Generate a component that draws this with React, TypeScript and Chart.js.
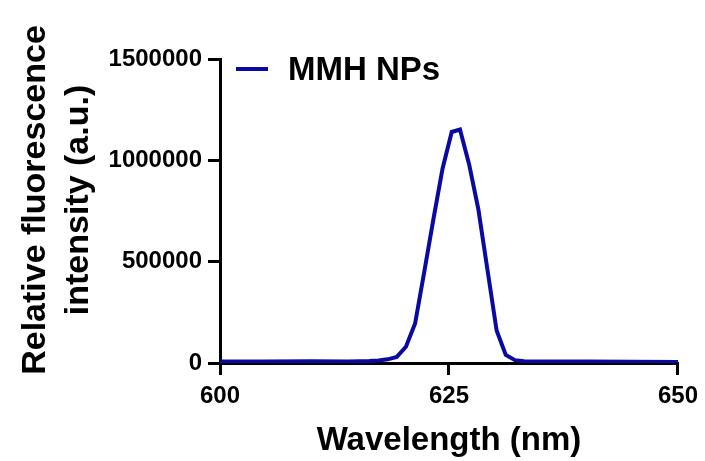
import React, { useEffect, useRef } from "react";
import { Chart, registerables } from "chart.js";

Chart.register(...registerables);

// Emission spectrum (wavelength in nm, relative fluorescence intensity in a.u.)
const wavelengths = [
  600, 605, 610, 614, 616.3, 617.3, 618.3, 619.3, 620.3, 621.3, 622.3, 623.3,
  624.3, 625.3, 626.2, 627.2, 628.2, 629.2, 630.2, 631.2, 632.2, 633.2, 635,
  640, 645, 650,
];
const intensities = [
  8000, 7000, 9000, 8000, 10000, 12000, 18000, 30000, 80000, 195000, 450000,
  710000, 960000, 1140000, 1152000, 980000, 760000, 460000, 160000, 40000,
  14000, 9000, 8000, 7000, 6000, 5000,
];
const seriesName = "MMH NPs";
const xTitle = "Wavelength (nm)";
const yTitleLines = ["Relative fluorescence", "intensity (a.u.)"];
const xTicks = [600, 625, 650];
const yTicks = [0, 500000, 1000000, 1500000];

const FONT = "'Liberation Sans', Arial, Helvetica, sans-serif";
const LINE_COLOR = "#0a0aa3";

const textPlugin = {
  id: "customText",
  afterDraw(chart: any) {
    const ctx = chart.ctx;
    const area = chart.chartArea;
    ctx.save();
    ctx.fillStyle = "#000";
    // x title
    ctx.font = `bold 33px ${FONT}`;
    ctx.textAlign = "center";
    ctx.textBaseline = "alphabetic";
    ctx.fillText(xTitle, (area.left + area.right) / 2, 450);
    // y title (two lines, rotated)
    ctx.font = `bold 34px ${FONT}`;
    const baselines = [45, 88];
    yTitleLines.forEach((line, i) => {
      ctx.save();
      ctx.translate(baselines[i], 200);
      ctx.rotate(-Math.PI / 2);
      ctx.textAlign = "center";
      ctx.textBaseline = "alphabetic";
      ctx.fillText(line, 0, 0);
      ctx.restore();
    });
    // legend
    ctx.strokeStyle = LINE_COLOR;
    ctx.lineWidth = 4;
    ctx.beginPath();
    ctx.moveTo(236, 69);
    ctx.lineTo(268, 69);
    ctx.stroke();
    ctx.font = `bold 33px ${FONT}`;
    ctx.textAlign = "left";
    ctx.fillText(seriesName, 288, 80);
    ctx.restore();
  },
};

export default function App() {
  const ref = useRef<HTMLCanvasElement | null>(null);

  useEffect(() => {
    document.body.style.margin = "0";
    const canvas = ref.current;
    if (!canvas) return;
    const chart = new Chart(canvas, {
      type: "line",
      data: {
        datasets: [
          {
            label: seriesName,
            data: wavelengths.map((w, i) => ({ x: w, y: intensities[i] })),
            borderColor: LINE_COLOR,
            backgroundColor: LINE_COLOR,
            borderWidth: 4,
            pointRadius: 0,
            tension: 0,
            fill: false,
          },
        ],
      },
      options: {
        responsive: false,
        animation: false,
        devicePixelRatio: 1,
        layout: { padding: { left: 0, right: 26, top: 59, bottom: 0 } },
        plugins: {
          legend: { display: false },
          tooltip: { enabled: false },
          title: { display: false },
        },
        scales: {
          x: {
            type: "linear",
            min: 600,
            max: 650,
            afterFit: (s: any) => {
              s.height = 98;
            },
            afterBuildTicks: (s: any) => {
              s.ticks = xTicks.map((v) => ({ value: v }));
            },
            ticks: {
              color: "#000",
              font: { family: FONT, size: 24, weight: "bold" },
              padding: 7,
              maxRotation: 0,
              callback: (v: any) => String(v),
            },
            grid: {
              drawOnChartArea: false,
              drawTicks: true,
              tickLength: 12,
              color: "#000",
              lineWidth: 3,
            },
            border: { display: true, color: "#000", width: 3 },
          },
          y: {
            type: "linear",
            min: 0,
            max: 1500000,
            afterFit: (s: any) => {
              s.width = 220;
            },
            afterBuildTicks: (s: any) => {
              s.ticks = yTicks.map((v) => ({ value: v }));
            },
            ticks: {
              color: "#000",
              font: { family: FONT, size: 24, weight: "bold" },
              padding: 6,
              callback: (v: any) => String(v),
            },
            grid: {
              drawOnChartArea: false,
              drawTicks: true,
              tickLength: 12,
              color: "#000",
              lineWidth: 3,
            },
            border: { display: true, color: "#000", width: 3 },
          },
        },
      },
      plugins: [textPlugin],
    });
    return () => chart.destroy();
  }, []);

  return (
    <div style={{ width: 705, height: 461, background: "#fff" }}>
      <canvas
        ref={ref}
        width={705}
        height={461}
        style={{ display: "block", width: 705, height: 461 }}
      />
    </div>
  );
}
